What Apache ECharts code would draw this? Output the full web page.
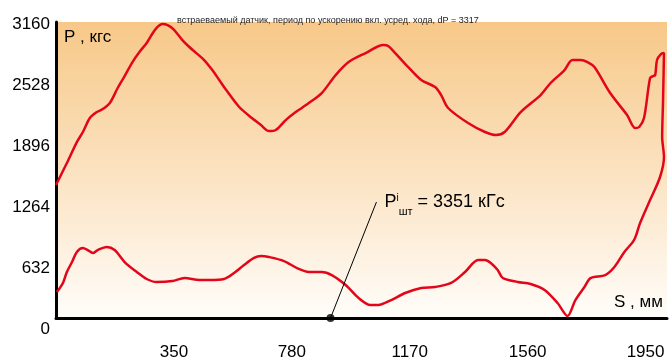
<!DOCTYPE html>
<html>
<head>
<meta charset="utf-8">
<script src="https://cdn.jsdelivr.net/npm/echarts@6/dist/echarts.min.js"></script>
<style>html,body{margin:0;padding:0;background:#fff}#c{width:670px;height:361px}</style>
</head>
<body>
<div id="c"></div>
<script>
// ---- data ----
const chartTitle = 'встраеваемый датчик, период по ускорению вкл. усред. хода, dP = 3317';
const yAxisName = 'P , кгс';
const xAxisName = 'S , мм';
// x tick labels (as printed in the original) and the S positions they mark, mm
const xTickValues = [390, 780, 1170, 1560, 1950];
const xTickLabels = ['350', '780', '1170', '1560', '1950'];
// y tick labels, kgs
const yTickMin = 0, yTickMax = 3160, yTickStep = 632;

// forward stroke (upper curve), S in mm, P in kgs
const forwardS = [0,36,69,89,112,135,155,178,204,227,253,276,300,316,332,352,369,388,418,441,464,490,517,540,563,606,648,678,704,727,760,793,813,836,879,925,968,1024,1083,1099,1122,1165,1208,1254,1274,1297,1363,1419,1455,1484,1537,1603,1636,1682,1708,1735,1758,1781,1833,1889,1916,1929,1945,1965,1975,1982,1988,2001,2011];
const forwardP = [1492,1720,1937,2041,2186,2248,2279,2341,2497,2621,2766,2870,2963,3046,3118,3160,3149,3108,2994,2922,2859,2787,2683,2580,2476,2300,2186,2113,2051,2062,2165,2248,2290,2341,2445,2631,2766,2859,2942,2932,2859,2714,2580,2507,2424,2290,2134,2041,2010,2041,2248,2424,2549,2683,2787,2787,2766,2714,2445,2217,2082,2093,2186,2600,2621,2631,2787,2849,2859];
// return stroke (lower curve), from the right end back to the left
const returnS = [2008,2005,2011,1998,1965,1932,1912,1880,1847,1817,1768,1748,1718,1692,1659,1616,1570,1527,1478,1461,1438,1419,1396,1353,1307,1254,1208,1155,1109,1066,1040,1001,958,912,879,836,803,754,704,678,655,622,589,556,507,474,425,385,332,300,267,227,194,168,138,122,105,89,69,53,36,23,3];
const returnP = [2372,1989,1782,1575,1336,1098,922,798,642,559,528,435,300,135,269,404,466,487,528,611,684,715,715,591,477,435,425,373,300,249,249,321,456,559,591,591,622,704,746,756,736,663,580,518,508,508,528,497,487,518,591,694,818,850,818,787,818,839,798,694,591,477,383];

// annotation: marked point on the S axis and the label anchor
const markS = 908;
const noteAnchor = [1060, 1316];
const noteValue = '3351 кГс';

// ---- build ----
const frameMinP = 114, frameMaxP = 3181, frameMaxS = 2021; // extent of the drawn frame
const FONT = '"Liberation Sans", Arial, Helvetica, sans-serif';
const curve = forwardS.map((s, i) => [s, forwardP[i]])
  .concat(returnS.map((s, i) => [s, returnP[i]]));

const chart = echarts.init(document.getElementById('c'), null, {renderer: 'canvas'});
chart.setOption({
  animation: false,
  backgroundColor: '#ffffff',
  textStyle: {fontFamily: FONT},
  title: {
    text: chartTitle, left: 172, top: 11,
    textStyle: {fontSize: 9, fontWeight: 'normal', color: '#222', fontFamily: FONT}
  },
  graphic: [
    {type: 'text', left: 64, top: 29, style: {text: yAxisName, font: '17px ' + FONT, fill: '#000'}},
    {type: 'text', left: 614, top: 294, style: {text: xAxisName, font: '17px ' + FONT, fill: '#000'}}
  ],
  grid: [
    {left: 56, right: 0, top: 22, bottom: 43, show: true, borderWidth: 0,
     backgroundColor: new echarts.graphic.LinearGradient(0, 0, 0, 1, [
       {offset: 0, color: '#F7C888'},
       {offset: 0.5, color: '#FBE2C0'},
       {offset: 1, color: '#FFFDFA'}
     ])},
    {left: 56, right: 0, top: 24, bottom: 32, show: false}
  ],
  xAxis: [
    {type: 'value', gridIndex: 0, min: 0, max: frameMaxS, interval: 390,
     axisLine: {show: true, onZero: false, lineStyle: {color: '#000', width: 3}},
     axisTick: {show: false}, splitLine: {show: false},
     axisLabel: {margin: 26, fontSize: 17, color: '#000', fontFamily: FONT,
       formatter: v => { const i = xTickValues.indexOf(v); return i < 0 ? '' : xTickLabels[i]; }}},
    {type: 'value', gridIndex: 1, show: false, min: 0, max: frameMaxS}
  ],
  yAxis: [
    {type: 'value', gridIndex: 0, min: frameMinP, max: frameMaxP,
     axisLine: {show: true, onZero: false, lineStyle: {color: '#000', width: 3}},
     axisTick: {show: false}, splitLine: {show: false}, axisLabel: {show: false}},
    {type: 'value', gridIndex: 1, min: yTickMin, max: yTickMax, interval: yTickStep,
     axisLine: {show: false}, axisTick: {show: false}, splitLine: {show: false},
     axisLabel: {margin: 6, fontSize: 17, color: '#000', fontFamily: FONT, formatter: v => String(v)}}
  ],
  series: [
    {type: 'line', xAxisIndex: 0, yAxisIndex: 0, data: curve, smooth: 0.3,
     showSymbol: false, symbol: 'none', lineStyle: {color: '#E3061B', width: 2.5}, z: 3, silent: true},
    {type: 'line', xAxisIndex: 0, yAxisIndex: 0, data: [[markS, frameMinP], noteAnchor],
     symbol: 'none', lineStyle: {color: '#000', width: 1}, z: 4, silent: true},
    {type: 'scatter', xAxisIndex: 0, yAxisIndex: 0, data: [[markS, frameMinP]],
     symbol: 'circle', symbolSize: 8, itemStyle: {color: '#000'}, z: 6, clip: false, silent: true},
    {type: 'scatter', xAxisIndex: 0, yAxisIndex: 0, data: [noteAnchor], symbolSize: 0, z: 5, silent: true,
     itemStyle: {opacity: 1},
     label: {show: true, position: 'right', distance: 8, color: '#000', opacity: 1,
       textBorderWidth: 0, fontFamily: FONT,
       formatter: '{p|P}{sup|i}{sub|шт}{t| = ' + noteValue + '}',
       rich: {
         p: {fontSize: 18, lineHeight: 30, color: '#000'},
         sup: {fontSize: 10, lineHeight: 10, verticalAlign: 'top', padding: [6, 0, 0, 0], color: '#000'},
         sub: {fontSize: 11, lineHeight: 11, verticalAlign: 'bottom', color: '#000'},
         t: {fontSize: 18, lineHeight: 30, color: '#000'}
       }}}
  ]
});
</script>
</body>
</html>
